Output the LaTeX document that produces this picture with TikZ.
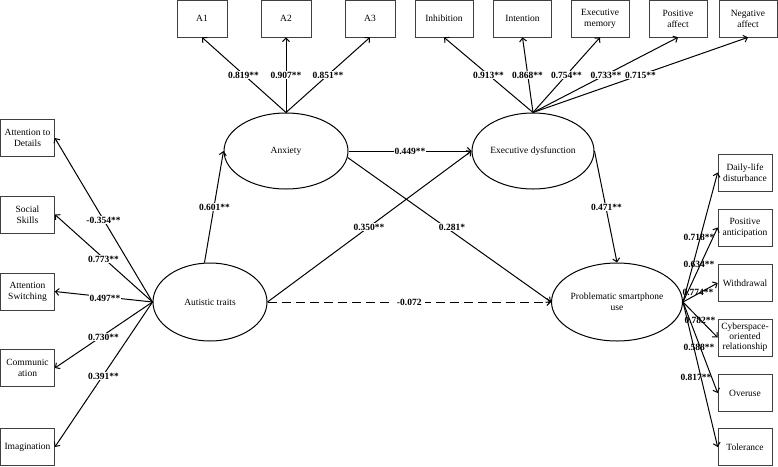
\documentclass[tikz,border=0pt]{standalone}
\usepackage{fontspec}
\setmainfont{Liberation Serif}
\usetikzlibrary{arrows.meta,shapes.geometric}

\begin{document}
\begin{tikzpicture}[x=1pt,y=-1pt,font=\fontsize{9.5}{11}\selectfont]
\tikzset{
  box/.style={draw=black!75,line width=0.7pt,align=center,inner sep=1pt,minimum height=37pt},
  latent/.style={ellipse,draw=black,line width=1pt,align=center,inner sep=0pt},
  arr/.style={-{Straight Barb[length=3.5pt,width=7pt]},line width=1pt,draw=black},
  coef/.style={font=\fontsize{9.5}{11}\selectfont\bfseries,inner sep=0.5pt,fill=white},
  coefr/.style={font=\fontsize{9.5}{11}\selectfont\bfseries,inner sep=0.5pt}
}
\useasboundingbox (0,0) rectangle (778,466);

% latent variables
\node[latent,minimum width=124pt,minimum height=76pt] (anx) at (286,151) {Anxiety};
\node[latent,minimum width=122pt,minimum height=76pt] (exd) at (533,151) {Executive dysfunction};
\node[latent,minimum width=114pt,minimum height=78pt] (aut) at (210,302) {Autistic traits};
\node[latent,minimum width=126pt,minimum height=78pt] (psu) at (617,302) {Problematic smartphone\\use};

% anxiety indicators
\node[box,minimum width=50pt] (a1) at (202,18.5) {A1};
\node[box,minimum width=50pt] (a2) at (286,18.5) {A2};
\node[box,minimum width=50pt] (a3) at (370,18.5) {A3};

% executive dysfunction indicators
\node[box,minimum width=58pt] (inhib) at (444,18.5) {Inhibition};
\node[box,minimum width=58pt] (inten) at (522.5,18.5) {Intention};
\node[box,minimum width=58pt] (exmem) at (600,18.5) {Executive\\memory};
\node[box,minimum width=58pt] (posaf) at (678,18.5) {Positive\\affect};
\node[box,minimum width=58pt] (negaf) at (748,18.5) {Negative\\affect};

% autistic traits indicators
\node[box,minimum width=54pt] (attdet) at (27.5,138) {Attention to\\Details};
\node[box,minimum width=54pt] (social) at (27.5,214.5) {Social\\Skills};
\node[box,minimum width=54pt] (attsw) at (27.5,291.5) {Attention\\Switching};
\node[box,minimum width=54pt] (commu) at (27.5,368) {Communic\\ation};
\node[box,minimum width=54pt] (imagi) at (27.5,447) {Imagination};

% smartphone use indicators
\node[box,minimum width=54pt] (daily) at (745,172.5) {Daily-life\\disturbance};
\node[box,minimum width=54pt] (posan) at (745,227.5) {Positive\\anticipation};
\node[box,minimum width=54pt] (withd) at (745,283) {Withdrawal};
\node[box,minimum width=54pt,font=\fontsize{9.5}{10}\selectfont] (cyber) at (745,337.5) {Cyberspace-\\oriented\\relationship};
\node[box,minimum width=54pt] (overu) at (745,393) {Overuse};
\node[box,minimum width=54pt] (toler) at (745,447) {Tolerance};

% loadings
\draw[arr] (anx.north) -- (a1.south);
\draw[arr] (anx.north) -- (a2.south);
\draw[arr] (anx.north) -- (a3.south);
\node[coef] at (243.5,75) {0.819**};
\node[coef] at (286,75) {0.907**};
\node[coef] at (328,75) {0.851**};

\draw[arr] (exd.north) -- (inhib.south);
\draw[arr] (exd.north) -- (inten.south);
\draw[arr] (exd.north) -- (exmem.south);
\draw[arr] (exd.north) -- (posaf.south);
\draw[arr] (exd.north) -- (negaf.south);
\node[coef] at (488.5,75) {0.913**};
\node[coef] at (527.5,75) {0.868**};
\node[coef] at (566.5,75) {0.754**};
\node[coef] at (606,75) {0.733**};
\node[coef] at (640.5,75) {0.715**};

\draw[arr] (aut.west) -- (attdet.east);
\draw[arr] (aut.west) -- (social.east);
\draw[arr] (aut.west) -- (attsw.east);
\draw[arr] (aut.west) -- (commu.east);
\draw[arr] (aut.west) -- (imagi.east);
\node[coef] at (103.5,220) {-0.354**};
\node[coef] at (103.5,259) {0.773**};
\node[coef] at (105,298) {0.497**};
\node[coef] at (103.5,337) {0.730**};
\node[coef] at (103.5,376) {0.391**};

\draw[arr] (psu.east) -- (daily.west);
\draw[arr] (psu.east) -- (posan.west);
\draw[arr] (psu.east) -- (withd.west);
\draw[arr] (psu.east) -- (cyber.west);
\draw[arr] (psu.east) -- (overu.west);
\draw[arr] (psu.east) -- (toler.west);
\node[coefr] at (699,237) {0.718**};
\node[coefr] at (699,264) {0.634**};
\node[coefr] at (698,292) {0.774**};
\node[coefr] at (700,320) {0.782**};
\node[coefr] at (699,347) {0.588**};
\node[coefr] at (696,377) {0.817**};

% structural paths
\draw[arr] (aut.98) -- (anx.west);
\node[coef] at (214.5,207) {0.601**};
\draw[arr] (anx.east) -- node[coef,inner xsep=1pt] {0.449**} (exd.west);
\draw[arr] (aut.east) -- (exd.west);
\node[coef] at (369,227) {0.350**};
\draw[arr] (anx.-6) -- (psu.west);
\node[coef] at (452,227) {0.281*};
\draw[arr] (exd.east) -- (psu.north);
\node[coef] at (606.5,207) {0.471**};
\draw[arr,dash pattern=on 9pt off 5pt] (aut.east) -- node[coef,inner xsep=3pt] {-0.072} (psu.west);
\end{tikzpicture}
\end{document}
